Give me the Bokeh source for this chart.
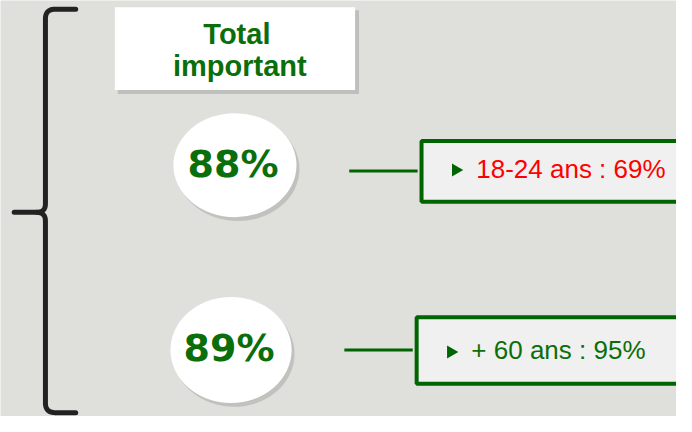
import numpy as np
from bokeh.plotting import figure
from bokeh.models import Range1d
from bokeh.core.properties import value
from bokeh.embed import file_html
from bokeh.resources import INLINE

# ---- data ----
header_lines = ["Total", "important"]
total_pct = [88, 89]
sub_groups = ["18-24 ans", "+ 60 ans"]
sub_pct = [69, 95]
sub_colors = ["#ff0000", "#0b6e0b"]

# ---- layout (reference pixel space 692 x 432) ----
BG = "#dfe0db"
GREEN = "#0a6e0a"
row_y = [171, 363]
ell_x = [240, 236]
ell_w = [126, 124]
ell_h = [108, 110]
pct_mid = [170, 361]
line_x0 = [357, 352]
line_x1 = [427, 422]
line_y = [177, 363]
box_l = [431, 426]
box_t = [146, 329]
box_b = [209, 398]
tri_x = [466, 461]
tri_y = [176, 365]
txt_x = [487, 482]
txt_mid = [174.5, 363]

p = figure(width=676, height=416, x_range=Range1d(0, 692), y_range=Range1d(432, 0),
           output_backend="svg", toolbar_location=None,
           x_axis_location=None, y_axis_location=None, min_border=0)
p.grid.visible = False
p.outline_line_color = None
p.background_fill_color = BG
p.border_fill_color = BG

# brace
def quad_curve(p0, c, p1, n=12):
    t = np.linspace(0, 1, n)
    x = (1 - t) ** 2 * p0[0] + 2 * (1 - t) * t * c[0] + t ** 2 * p1[0]
    y = (1 - t) ** 2 * p0[1] + 2 * (1 - t) * t * c[1] + t ** 2 * p1[1]
    return list(x), list(y)

ux, uy = [77], [9]
cx, cy = quad_curve((56, 9), (46, 9), (46, 19))
ux += cx; uy += cy
cx, cy = quad_curve((46, 211), (46, 220), (37, 220))
ux += cx; uy += cy
ux += [14]; uy += [220]
lx, ly = quad_curve((37, 220), (46, 220), (46, 229))
cx, cy = quad_curve((46, 418), (46, 428), (56, 428))
lx += cx; ly += cy
lx += [77]; ly += [428]
p.line(ux, uy, line_color="#222222", line_width=5, line_cap="round", line_join="round")
p.line(lx, ly, line_color="#222222", line_width=5, line_cap="round", line_join="round")

# header box
p.quad(left=[120], right=[367], top=[10], bottom=[97], fill_color="#9a9a9a", fill_alpha=0.45, line_color=None)
p.quad(left=[117], right=[363], top=[7], bottom=[93], fill_color="white", line_color=None)
p.text(x=[242, 245], y=[34.5, 68], text=header_lines, text_align="center", text_baseline="middle",
       text_font=value("Liberation Sans"), text_font_style="bold", text_font_size="29px", text_color=GREEN)

# ellipses
p.ellipse(x=[x + 3 for x in ell_x], y=[y + 4 for y in row_y], width=ell_w, height=ell_h,
          fill_color="#8a8a8a", fill_alpha=0.35, line_color=None)
p.ellipse(x=ell_x, y=row_y, width=ell_w, height=ell_h, fill_color="white", line_color=None)
p.text(x=[x - 2 for x in ell_x], y=pct_mid, text=[f"{v}%" for v in total_pct], text_align="center",
       text_baseline="middle", text_font=value("DejaVu Sans"), text_font_style="bold",
       text_font_size="38px", text_color=GREEN)

# connectors
p.segment(x0=line_x0, y0=line_y, x1=line_x1, y1=line_y, line_color="#006400", line_width=3)

# detail boxes
p.quad(left=box_l, right=[705, 705], top=box_t, bottom=box_b, fill_color="#f0f0f0",
       line_color="#006400", line_width=4)
p.scatter(x=tri_x, y=tri_y, marker="triangle", size=13, angle=-np.pi / 2,
          fill_color="#006400", line_color=None)
p.text(x=txt_x, y=txt_mid, text=[f"{g} : {v}%" for g, v in zip(sub_groups, sub_pct)],
       text_align="left", text_baseline="middle", text_font=value("Liberation Sans"),
       text_font_size="26px", text_color=sub_colors)

open("out.html", "w").write(file_html(p, INLINE))
